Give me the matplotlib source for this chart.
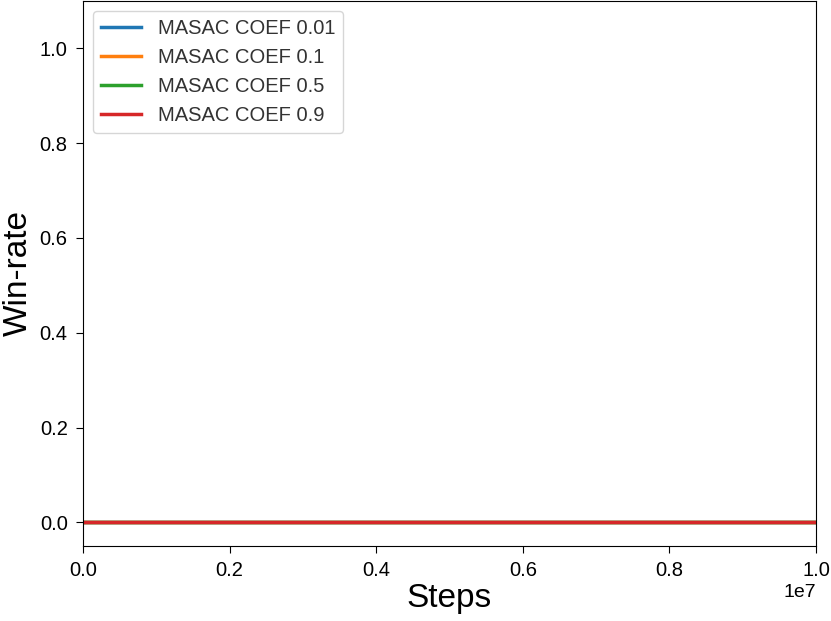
import matplotlib
matplotlib.use("Agg")
import matplotlib.pyplot as plt

plt.rcParams["font.family"] = ["Liberation Sans", "DejaVu Sans"]

steps = [0, 2500000, 5000000, 7500000, 10000000]
labels = ["MASAC COEF 0.01", "MASAC COEF 0.1", "MASAC COEF 0.5", "MASAC COEF 0.9"]
win_001 = [0.0, 0.0, 0.0, 0.0, 0.0]
win_01 = [0.0, 0.0, 0.0, 0.0, 0.0]
win_05 = [0.0, 0.0, 0.0, 0.0, 0.0]
win_09 = [0.0, 0.0, 0.0, 0.0, 0.0]

fig = plt.figure(figsize=(8.31, 6.21), dpi=100)
ax = fig.add_axes([83 / 831, 75 / 621, 733 / 831, 545 / 621])

for ys, lab in zip([win_001, win_01, win_05, win_09], labels):
    ax.plot(steps, ys, label=lab, linewidth=2.5)

ax.set_xlim(0, 10000000)
ax.set_ylim(-0.05, 1.1)
ax.set_xlabel("Steps", fontsize=24, labelpad=2)
ax.set_ylabel("Win-rate", fontsize=24)
ax.tick_params(labelsize=14.5, length=5, pad=6)
ax.xaxis.get_offset_text().set_fontsize(14)
leg = ax.legend(loc="upper left", fontsize=14.5)
for t in leg.get_texts():
    t.set_color("#333333")

fig.savefig("out.png", dpi=100)
